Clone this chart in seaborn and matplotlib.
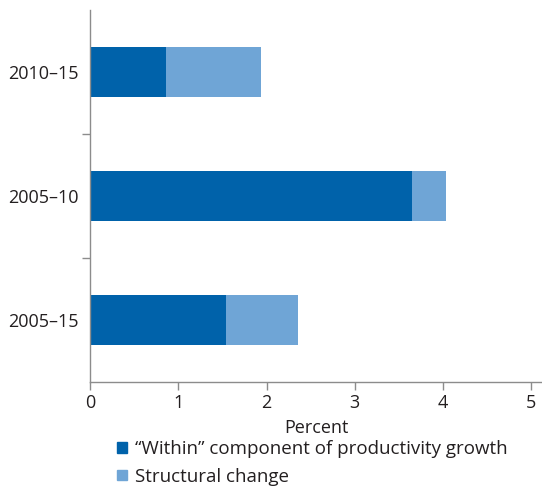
import pandas as pd
import matplotlib.pyplot as plt
import seaborn as sns
from matplotlib.patches import Patch

PERIODS = ['2010–15', '2005–10', '2005–15']
WITHIN = [0.86, 3.65, 1.54]
STRUCTURAL = [1.08, 0.38, 0.82]

DARK = '#0062AA'
LIGHT = '#6FA5D6'
GRAY = '#8c8c8c'
TEXT = '#231f20'

sns.set_theme(style='white')
plt.rcParams['font.family'] = ['Open Sans', 'DejaVu Sans']

df = pd.DataFrame({'period': PERIODS, 'within': WITHIN, 'structural': STRUCTURAL})
df['total'] = df['within'] + df['structural']

fig = plt.figure(figsize=(5.42, 4.88), dpi=100)
ax = fig.add_axes([90 / 542, 106 / 488, 452 / 542, 372 / 488])

# stacked: draw totals first, then the within part on top
sns.barplot(data=df, y='period', x='total', color=LIGHT, width=0.4,
            saturation=1, linewidth=0, ax=ax, orient='h')
sns.barplot(data=df, y='period', x='within', color=DARK, width=0.4,
            saturation=1, linewidth=0, ax=ax, orient='h')

ax.set_xlim(0, 5.12)
ax.set_ylim(2.5, -0.5)
ax.set_xticks([0, 1, 2, 3, 4, 5])
ax.set_yticks([0, 1, 2])
ax.set_yticklabels(PERIODS)
ax.set_yticks([0.5, 1.5], minor=True)
ax.tick_params(axis='y', which='major', length=0, pad=8, labelsize=13, labelcolor=TEXT)
ax.tick_params(axis='y', which='minor', length=6, width=1, color=GRAY, left=True)
ax.tick_params(axis='x', length=6, width=1, color=GRAY, bottom=True, labelsize=13,
               labelcolor=TEXT, pad=3)

for s in ['top', 'right']:
    ax.spines[s].set_visible(False)
for s in ['left', 'bottom']:
    ax.spines[s].set_color(GRAY)
    ax.spines[s].set_linewidth(1)

ax.set_ylabel('')
ax.set_xlabel('Percent', fontsize=13, color=TEXT, labelpad=5)

handles = [Patch(color=DARK, label='“Within” component of productivity growth'),
           Patch(color=LIGHT, label='Structural change')]
fig.legend(handles=handles, loc='upper left', bbox_to_anchor=(108 / 542, 1 - 431 / 488),
           frameon=False, fontsize=13.5, handlelength=0.5, handleheight=0.5,
           handletextpad=0.45, labelspacing=0.5, borderpad=0, labelcolor=TEXT)

fig.savefig('out.png', dpi=100)
